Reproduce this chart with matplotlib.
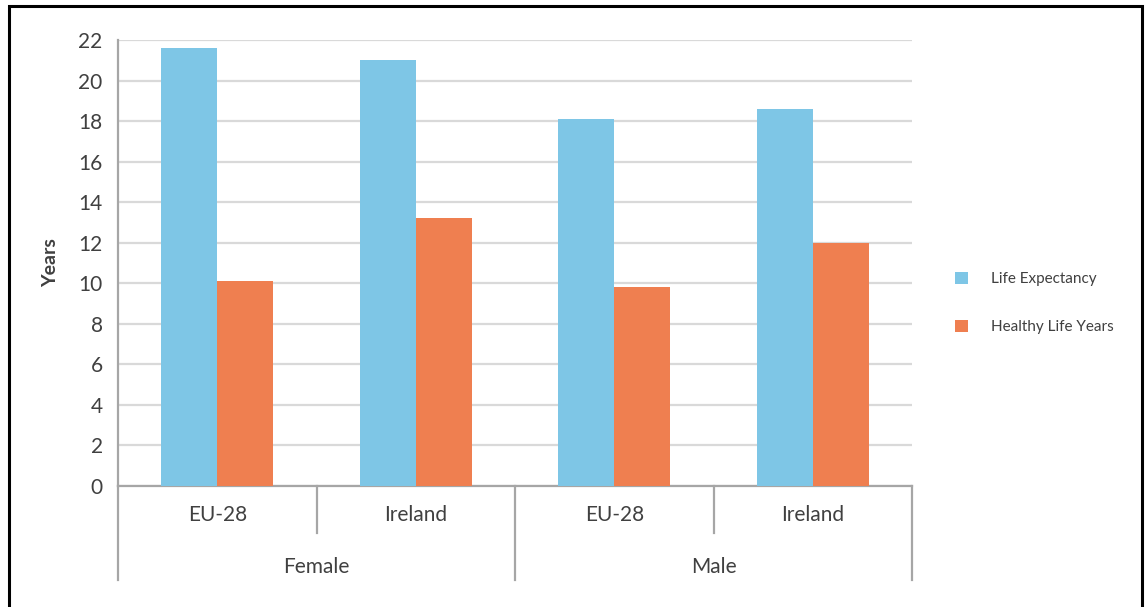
import matplotlib
matplotlib.use("Agg")
import matplotlib.pyplot as plt
from matplotlib.patches import Patch, Rectangle
import numpy as np

plt.rcParams['font.family'] = ['Lato', 'DejaVu Sans']

subgroups = ["EU-28", "Ireland", "EU-28", "Ireland"]
groups = ["Female", "Male"]
series_names = ["Life Expectancy", "Healthy Life Years"]
life_expectancy = [21.6, 21.0, 18.1, 18.6]
healthy_life_years = [10.1, 13.2, 9.8, 12.0]
yticks = list(range(0, 23, 2))

blue = "#7EC6E6"
orange = "#EF7F50"
grid_c = "#D9D9D9"
axis_c = "#A6A6A6"
text_c = "#404040"

fig = plt.figure(figsize=(11.46, 6.07), dpi=100)
ax = fig.add_axes([118/1146, 1-486/607, (912-118)/1146, 446/607])

x = np.arange(len(subgroups))
w = 0.283
ax.bar(x - w/2, life_expectancy, width=w, color=blue, zorder=3, label=series_names[0])
ax.bar(x + w/2, healthy_life_years, width=w, color=orange, zorder=3, label=series_names[1])

ax.set_xlim(-0.5, len(subgroups) - 0.5)
ax.set_ylim(0, 22)
ax.set_yticks(yticks)
ax.set_yticklabels([str(t) for t in yticks], fontsize=15, color=text_c)
ax.tick_params(axis='y', length=0, pad=11)
ax.set_xticks([])
ax.yaxis.grid(True, color=grid_c, linewidth=1.6, zorder=0)
for s in ['top', 'right']:
    ax.spines[s].set_visible(False)
for s in ['left', 'bottom']:
    ax.spines[s].set_color(axis_c)
    ax.spines[s].set_linewidth(1.6)
ax.set_ylabel("Years", fontsize=14, fontweight='bold', color=text_c, labelpad=14)

trans = ax.get_xaxis_transform()
short_y = (486 - 533) / 446
long_y = (486 - 580) / 446
for b in np.arange(-0.5, len(subgroups), 1.0):
    idx = int(b + 0.5)
    yend = long_y if idx % 2 == 0 else short_y
    ax.plot([b, b], [0, yend], color=axis_c, lw=1.6, transform=trans, clip_on=False)
for i, lab in enumerate(subgroups):
    ax.text(i, (486 - 515) / 446, lab, transform=trans, ha='center', va='center',
            fontsize=15, color=text_c)
for g, lab in enumerate(groups):
    ax.text(2 * g + 0.5, (486 - 567) / 446, lab, transform=trans, ha='center', va='center',
            fontsize=15, color=text_c)

handles = [Patch(facecolor=blue, edgecolor='none'), Patch(facecolor=orange, edgecolor='none')]
fig.legend(handles, series_names, loc='center left', bbox_to_anchor=(941/1146, 1-303/607),
           frameon=False, fontsize=11, handlelength=0.85, handleheight=0.85,
           labelspacing=2.2, handletextpad=1.5, labelcolor=text_c)

fig.patches.append(Rectangle((9/1146, -0.05), (1142-9)/1146, 1.05 - 6/607,
                             transform=fig.transFigure, fill=False, edgecolor='black',
                             linewidth=2.2))

fig.savefig("out.png", dpi=100)
